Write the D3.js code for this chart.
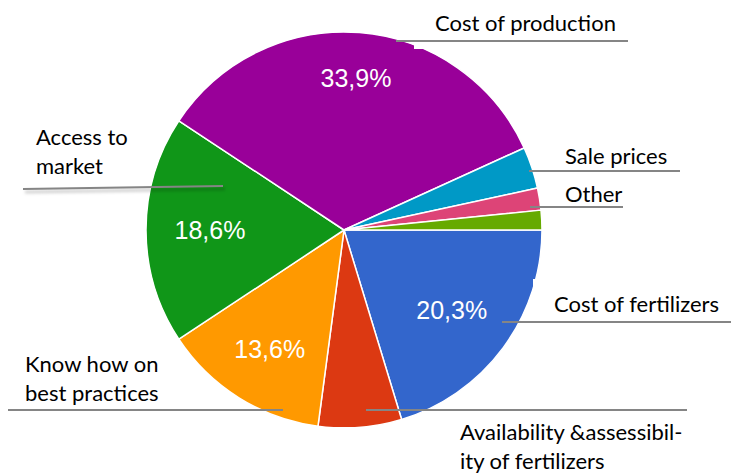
<!DOCTYPE html>
<html>
<head>
<meta charset="utf-8">
<script src="https://cdn.jsdelivr.net/npm/d3@7/dist/d3.min.js"></script>
<style>
  html, body { margin: 0; padding: 0; background: #fff; }
  svg { display: block; }
</style>
</head>
<body>
<svg id="chart" width="731" height="473"></svg>
<script>
// Survey responses: main constraints reported (share of answers, %)
const categories = [
  "Cost of fertilizers",
  "Availability &assessibility of fertilizers",
  "Know how on best practices",
  "Access to market",
  "Cost of production",
  "Sale prices",
  "Other",
  "Other (minor)"
];
const shares = [20.3, 6.8, 13.6, 18.6, 33.9, 3.4, 1.8, 1.6];
const sliceColors = ["#3366cc", "#dc3912", "#ff9900", "#109618", "#990099", "#0099c6", "#dd4477", "#66aa00"];
// Slices that carry a value label inside the pie
const labelledShares = ["Cost of fertilizers", "Know how on best practices", "Access to market", "Cost of production"];

const data = categories.map((c, i) => ({ category: c, value: shares[i], color: sliceColors[i] }));

const svg = d3.select("#chart");
const W = 731, H = 473;
const cx = 344, cy = 230, R = 198;

// Shadow filter for the callout lines
const defs = svg.append("defs");
const blur = defs.append("filter").attr("id", "soft").attr("x", "-5%").attr("y", "-200%").attr("width", "110%").attr("height", "500%");
blur.append("feGaussianBlur").attr("stdDeviation", 1.6);
defs.append("clipPath").attr("id", "pieClip")
  .append("rect").attr("x", 0).attr("y", 0).attr("width", W).attr("height", 427);

// Pie starts at 3 o'clock and runs clockwise
const pie = d3.pie().value(d => d.value).sort(null)
  .startAngle(Math.PI / 2).endAngle(Math.PI / 2 + 2 * Math.PI);
const arcs = pie(data);
const arc = d3.arc().innerRadius(0).outerRadius(R);

const g = svg.append("g").attr("clip-path", "url(#pieClip)")
  .append("g").attr("transform", `translate(${cx},${cy})`);

g.selectAll("path.slice").data(arcs).join("path")
  .attr("class", "slice")
  .attr("d", arc)
  .attr("fill", d => d.data.color)
  .attr("stroke", "#fff")
  .attr("stroke-width", 1.5)
  .attr("stroke-linejoin", "round");

// Percentage labels
const labelRadius = { "Cost of production": 152, "Cost of fertilizers": 134, "Know how on best practices": 140, "Access to market": 134 };
const fmt = v => d3.format(".1f")(v).replace(".", ",") + "%";
g.selectAll("text.pct").data(arcs.filter(d => labelledShares.includes(d.data.category))).join("text")
  .attr("class", "pct")
  .attr("transform", d => {
    const a = (d.startAngle + d.endAngle) / 2;
    const r = labelRadius[d.data.category];
    return `translate(${r * Math.sin(a)},${-r * Math.cos(a)})`;
  })
  .attr("text-anchor", "middle")
  .attr("dy", "0.36em")
  .attr("font-family", "'Liberation Sans', Arial, sans-serif")
  .attr("font-size", 25)
  .attr("fill", "#fff")
  .text(d => fmt(d.data.value));

// Callout text boxes (white backgrounds overlap the pie edge)
svg.append("rect").attr("x", 414).attr("y", 8).attr("width", 220).attr("height", 41).attr("fill", "#fff");
svg.append("rect").attr("x", 533).attr("y", 279).attr("width", 198).attr("height", 48).attr("fill", "#fff");

// Callouts: line from slice to text, then text lines
const callouts = [
  { key: "Cost of production", line: [396, 41, 628, 41], text: ["Cost of production"], x: 435, y: 31 },
  { key: "Sale prices", line: [529, 171, 680, 171], text: ["Sale prices"], x: 565, y: 164 },
  { key: "Other", line: [530, 207, 623, 207], text: ["Other"], x: 565, y: 202 },
  { key: "Access to market", line: [23, 189, 223, 186], text: ["Access to", "market"], x: 36, y: 145 },
  { key: "Know how on best practices", line: [8, 410, 283, 410], text: ["Know how on", "best practices"], x: 25, y: 372 },
  { key: "Availability &assessibility of fertilizers", line: [366, 410, 687, 410], text: ["Availability &assessibil-", "ity of fertilizers"], x: 460, y: 440 },
  { key: "Cost of fertilizers", line: [502, 322, 731, 322], text: ["Cost of fertilizers"], x: 554, y: 312 }
];

const co = svg.append("g");
co.selectAll("line.shadow").data(callouts).join("line")
  .attr("class", "shadow")
  .attr("x1", d => d.line[0] + 2).attr("y1", d => d.line[1] + 3)
  .attr("x2", d => d.line[2] + 2).attr("y2", d => d.line[3] + 3)
  .attr("stroke", "#000").attr("stroke-opacity", 0.18).attr("stroke-width", 3)
  .attr("filter", "url(#soft)");
co.selectAll("line.lead").data(callouts).join("line")
  .attr("class", "lead")
  .attr("x1", d => d.line[0]).attr("y1", d => d.line[1])
  .attr("x2", d => d.line[2]).attr("y2", d => d.line[3])
  .attr("stroke", "#858585").attr("stroke-width", 2);

co.selectAll("text.name").data(callouts).join("text")
  .attr("class", "name")
  .attr("x", d => d.x).attr("y", d => d.y)
  .attr("font-family", "Lato, 'Open Sans', sans-serif")
  .attr("font-size", 22)
  .attr("fill", "#000")
  .each(function(d) {
    d3.select(this).selectAll("tspan").data(d.text).join("tspan")
      .attr("x", d.x).attr("dy", (t, i) => i === 0 ? 0 : 28.5)
      .text(t => t);
  });
</script>
</body>
</html>
